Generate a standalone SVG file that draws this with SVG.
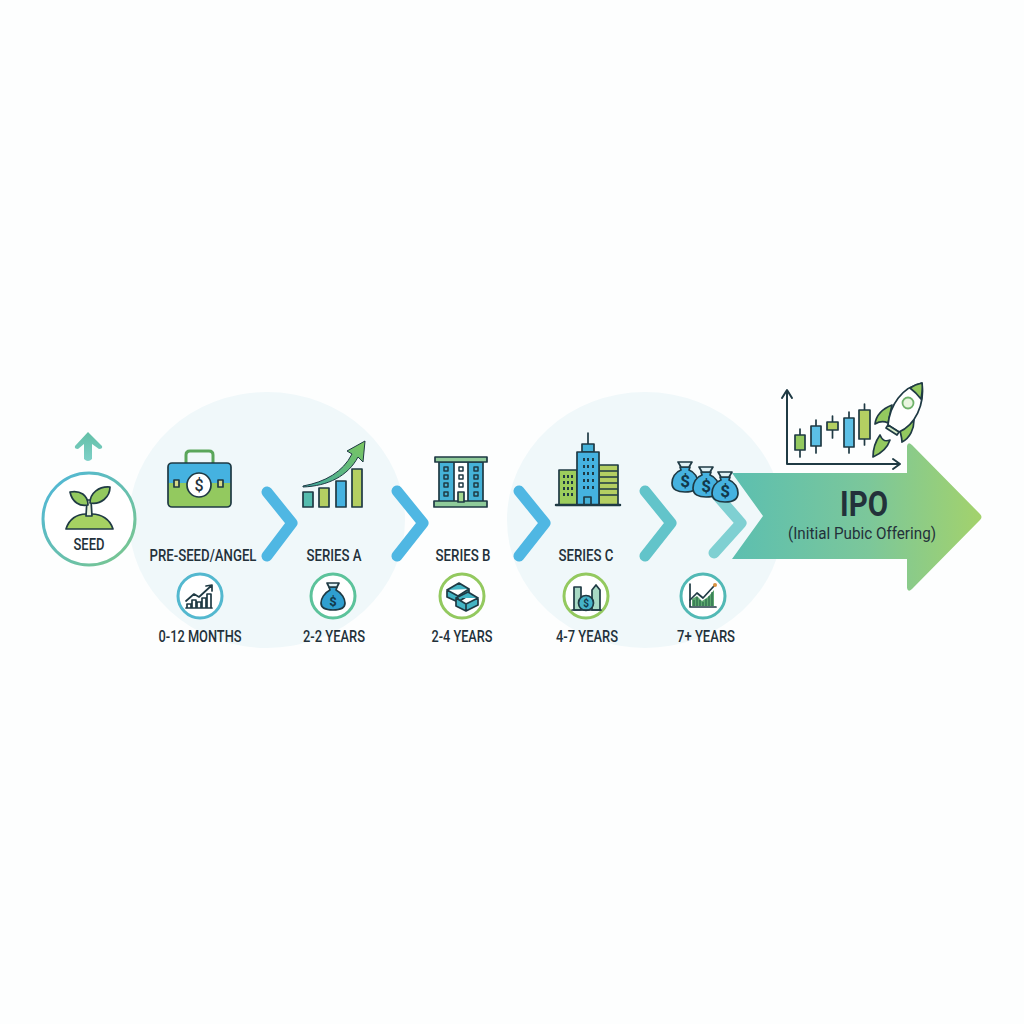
<svg xmlns="http://www.w3.org/2000/svg" xmlns:xlink="http://www.w3.org/1999/xlink" width="1024" height="1024" viewBox="0 0 1024 1024">
<style>
text{font-family:Roboto,"Liberation Sans",sans-serif;fill:#23313a;text-anchor:middle;font-size:17px;font-weight:500}
.o{stroke:#1f3a44;stroke-width:1.7;stroke-linejoin:round;stroke-linecap:round}
.l{fill:none;stroke:#1f3a44;stroke-width:1.7;stroke-linejoin:round;stroke-linecap:round}
.chev{fill:none;stroke-width:11;stroke-linecap:round;stroke-linejoin:round}
.ring{fill:#fff;stroke-width:3}
.bl{fill:#45b2e0}.gr{fill:#93c95f}.te{fill:#55bcae}.ol{fill:#b4cf62}
.win{fill:#1f3a44}
</style>
<defs>
<linearGradient id="ipo" x1="0" x2="1" y1="0" y2="0"><stop offset="0" stop-color="#5cbfb0"/><stop offset="0.55" stop-color="#7cc79a"/><stop offset="1" stop-color="#a3d26c"/></linearGradient>
<linearGradient id="seedRing" x1="0" x2="1" y1="0" y2="1"><stop offset="0" stop-color="#4db6dc"/><stop offset="1" stop-color="#7cc78a"/></linearGradient>
<linearGradient id="up" x1="0" x2="0" y1="0" y2="1"><stop offset="0" stop-color="#62bfa6"/><stop offset="1" stop-color="#7fd0c8"/></linearGradient>
<linearGradient id="trend" x1="0" x2="1" y1="1" y2="0"><stop offset="0" stop-color="#3fa9a0"/><stop offset="1" stop-color="#7cc75f"/></linearGradient>
<g id="bag">
<path class="o" d="M-5,-12 L5,-12 L4,-9 C10,-7 13,-1 13,4 C13,11 7,13 0,13 C-7,13 -13,11 -13,4 C-13,-1 -10,-7 -4,-9 Z" fill="#45b2e0"/>
<path class="o" d="M-7,-17 L7,-17 L4,-12 L-4,-12 Z" fill="#dff1f5"/>
<text y="8" style="font-size:17px;font-weight:700;fill:#12384a">$</text>
</g>
</defs>
<rect width="1024" height="1024" fill="#fdfefe"/>
<g id="backdrops">
<ellipse cx="267" cy="520" rx="138" ry="128" fill="#f0f8fa"/>
<ellipse cx="645" cy="520" rx="138" ry="128" fill="#f0f8fa"/>
</g>
<g id="ipo-node">
<path d="M732,473 L907,473 L907,446 Q908,441 912,445 L980,514 Q983,517 980,520 L912,589 Q908,593 907,588 L907,559 L732,559 L763,516 Z" fill="url(#ipo)"/>
<text x="864" y="516" style="font-size:35px;font-weight:700" textLength="48" lengthAdjust="spacingAndGlyphs">IPO</text>
<text x="862" y="539" style="font-size:17px;font-weight:400" textLength="148" lengthAdjust="spacingAndGlyphs">(Initial Pubic Offering)</text>
<path class="l" d="M787,464 L787,391 M782,398 L787,390 L792,398 M787,464 L900,464 M893,459 L900,464 L893,469" style="stroke-width:2"/>
<path class="l" d="M800,429V457M816,420V453M832.500,416V438M849,412V453M864.500,404V445"/>
<rect class="o gr" x="795" y="435" width="10" height="15"/>
<rect class="o bl" x="811" y="426" width="10" height="20" style="fill:#5cc0e6"/>
<rect class="o ol" x="827" y="422" width="11" height="8"/>
<rect class="o bl" x="844" y="418" width="10" height="29" style="fill:#5cc0e6"/>
<rect class="o ol" x="859" y="410" width="11" height="29"/>
<path class="o gr" d="M892,405 C882,409 876,416 875,424 C880,421 884,421 888,423 Z"/>
<path class="o gr" d="M914,420 C914,429 910,438 902,442 C902,438 901,435 900,431 Z"/>
<path class="o gr" d="M880,435 C875,442 873,450 873,457 C880,454 887,449 890,440 C885,442 882,440 880,435 Z"/>
<path class="o" fill="#fff" d="M922,383 C902,387 890,405 888,425 L899,432 C915,425 925,405 922,383 Z"/>
<path class="o gr" d="M922,383 C917,384 914,385 910,388 C914,391 918,395 921,399 C922,393 923,388 922,383 Z"/>
<path class="o" fill="#d6ebc8" d="M888,425 L899,432 L897,435 L886,428 Z"/>
<circle cx="908" cy="403" r="5.500" fill="#e9f5df" stroke="#6fb26a" stroke-width="1.800"/>
</g>
<g id="connectors">
<path class="chev" stroke="#4fb7e3" d="M267,492 L292,523 L267,556"/>
<path class="chev" stroke="#4fb7e3" d="M397,491 L423,523 L397,556"/>
<path class="chev" stroke="#4fb7e3" d="M519,491 L545,523 L519,556"/>
<path class="chev" stroke="#62c4ca" d="M645,491 L671,523 L645,556"/>
<path class="chev" stroke="#7fd0d2" d="M714,492 L741,523 L714,553"/>
<path fill="url(#up)" d="M88,432 L102,446 Q103,449 99,449 L92,444 L92,459 Q88,463 84,459 L84,444 L78,449 Q74,449 75,446 Z"/>
</g>
<g id="seed">
<circle cx="89" cy="519" r="46" fill="#fff" stroke="url(#seedRing)" stroke-width="3"/>
<path class="o" fill="#a5d162" d="M66,529 C69,519 77,514 86,514 L92,514 C101,514 110,519 113,529 Z"/>
<path class="o" fill="#e8f3d8" d="M86,516 L87,500 L91,500 L92,516 Z"/>
<path class="o gr" d="M88,505 C80,507 72,502 70,492 C80,490 88,495 88,505 Z"/>
<path class="o gr" d="M90,503 C90,493 99,486 110,487 C110,497 101,505 90,503 Z"/>
<text x="89" y="550" textLength="31" lengthAdjust="spacingAndGlyphs">SEED</text>
</g>
<g id="pre-seed">
<path d="M186,463 L186,455 Q186,451 190,451 L209,451 Q213,451 213,455 L213,463" fill="none" stroke="#5aa65a" stroke-width="3"/>
<path class="gr" d="M168,483 H231 V503 Q231,507 227,507 H172 Q168,507 168,503 Z"/>
<path class="bl" d="M168,483 H231 V467 Q231,463 227,463 H172 Q168,463 168,467 Z"/>
<rect class="l" x="168" y="463" width="63" height="44" rx="4"/>
<rect class="o" x="174" y="480" width="5" height="7" fill="#d7d98a"/>
<rect class="o" x="218" y="480" width="5" height="7" fill="#d7d98a"/>
<circle class="o" cx="199" cy="485" r="12" fill="#fff"/>
<text x="199" y="491" style="font-size:16px;font-weight:500">$</text>
<text x="203" y="561" textLength="107" lengthAdjust="spacingAndGlyphs">PRE-SEED/ANGEL</text>
<circle class="ring" cx="200" cy="596" r="22" stroke="#53b8cf"/>
<path class="l" d="M187,608 V604 H191 V608 M192,608 V600 H196 V608 M197,608 V602 H201 V608 M202,608 V598 H206 V608 M207,608 V594 H211 V608 M186,608 H212"/>
<path class="l" d="M186,601 L194,594 L199,597 L211,586 M206,586 L212,585 L212,591"/>
<text x="200" y="642" textLength="83" lengthAdjust="spacingAndGlyphs">0-12 MONTHS</text>
</g>
<g id="series-a">
<rect class="o te" x="303" y="492" width="10" height="15"/>
<rect class="o ol" x="319" y="488" width="10" height="19"/>
<rect class="o bl" x="336" y="481" width="10" height="26"/>
<rect class="o ol" x="352" y="469" width="10" height="38"/>
<path fill="url(#trend)" stroke="#1f3a44" stroke-width="1" stroke-linejoin="round" d="M303,486 C325,482 343,472 352,454 L347,451 L365,441 L363,462 L358,457 C348,476 328,486 303,487 Z"/>
<text x="334" y="561" textLength="55" lengthAdjust="spacingAndGlyphs">SERIES A</text>
<circle class="ring" cx="333" cy="596" r="22" stroke="#5cc39b"/>
<path class="o" fill="#2f9fd0" d="M329,587 L337,587 L336,590 C342,593 345,599 345,603 C345,608 340,610 333,610 C326,610 321,608 321,603 C321,599 324,593 330,590 Z"/>
<path class="o" fill="#dff1f5" d="M327,583 L339,583 L337,587 L329,587 Z"/>
<text x="333" y="606" style="font-size:13px;font-weight:700;fill:#12384a">$</text>
<text x="334" y="642" textLength="62" lengthAdjust="spacingAndGlyphs">2-2 YEARS</text>
</g>
<g id="series-b">
<rect class="o" x="439" y="462" width="44" height="40" fill="#45b2d8"/>
<rect class="o" x="454" y="462" width="14" height="40" fill="#fff"/>
<rect class="o" x="435" y="457" width="52" height="5" fill="#8fcb9a"/>
<rect class="o" x="434" y="501" width="53" height="6" fill="#8fcb9a"/>
<path class="l" d="M444,467h4v4h-4zM444,475h4v4h-4zM444,483h4v4h-4zM444,492h4v4h-4zM459,467h4v4h-4zM459,475h4v4h-4zM459,483h4v4h-4zM474,467h4v4h-4zM474,475h4v4h-4zM474,483h4v4h-4zM474,492h4v4h-4z" style="stroke-width:1.500"/>
<rect class="o" x="458" y="492" width="6" height="10" fill="#a5d98f"/>
<text x="463" y="561" textLength="55" lengthAdjust="spacingAndGlyphs">SERIES B</text>
<circle class="ring" cx="462" cy="596" r="22" stroke="#93c95f"/>
<path class="o" fill="#43b4c4" d="M447,590 L459,583 L469,589 L469,595 L458,602 L447,597 Z M447,590 L458,596 L469,589 M458,596 V602"/>
<path class="o" fill="#43b4c4" d="M456,598 L468,592 L478,598 L478,605 L466,611 L456,606 Z M456,598 L466,604 L478,598 M466,604 V611"/>
<text x="462" y="642" textLength="61" lengthAdjust="spacingAndGlyphs">2-4 YEARS</text>
</g>
<g id="series-c">
<path class="l" d="M588,433 V444"/>
<rect class="o" x="582" y="444" width="12" height="8" fill="#45b2d8"/>
<rect class="o ol" x="559" y="470" width="18" height="35" style="fill:#9ccd5c"/>
<rect class="o ol" x="599" y="465" width="19" height="40"/>
<rect class="o bl" x="577" y="452" width="22" height="53"/>
<path d="M583,458h2v3h-2zM587,458h2v3h-2zM592,458h2v3h-2zM583,465h2v3h-2zM587,465h2v3h-2zM592,465h2v3h-2zM583,472h2v3h-2zM587,472h2v3h-2zM592,472h2v3h-2zM583,479h2v3h-2zM587,479h2v3h-2zM592,479h2v3h-2zM583,486h2v3h-2zM587,486h2v3h-2zM592,486h2v3h-2z" class="win"/>
<path d="M563,475h2v3h-2zM567,475h2v3h-2zM571,475h2v3h-2zM563,481h2v3h-2zM567,481h2v3h-2zM571,481h2v3h-2zM563,487h2v3h-2zM567,487h2v3h-2zM571,487h2v3h-2zM563,493h2v3h-2zM567,493h2v3h-2zM571,493h2v3h-2z" class="win"/>
<path class="l" d="M600,471 H617 M600,477 H617 M600,483 H617 M600,489 H617 M600,495 H617"/>
<rect class="o" x="584" y="497" width="7" height="8" fill="#45b2d8"/>
<path class="l" d="M556,505 H620" style="stroke-width:2.500"/>
<text x="586" y="561" textLength="55" lengthAdjust="spacingAndGlyphs">SERIES C</text>
<circle class="ring" cx="586" cy="596" r="22" stroke="#93c95f"/>
<path class="o" fill="#a8d9c4" d="M574,610 V587 H581 V610 Z M592,610 V590 L596,585 L600,590 V610 Z"/>
<circle class="o" cx="586" cy="603" r="7.500" fill="#45b2c8"/>
<text x="586" y="607" style="font-size:10px;font-weight:700;fill:#12384a">$</text>
<path class="l" d="M572,610 H601"/>
<text x="587" y="642" textLength="62" lengthAdjust="spacingAndGlyphs">4-7 YEARS</text>
</g>
<g id="late-stage">
<use xlink:href="#bag" href="#bag" x="685" y="479"/>
<use xlink:href="#bag" href="#bag" x="706" y="484"/>
<use xlink:href="#bag" href="#bag" x="725" y="489"/>
<circle class="ring" cx="703" cy="596" r="22" stroke="#52b9b5"/>
<path fill="#5da96f" d="M692,606 L692,599 L697,596 L702,601 L708,597 L714,590 L714,606 Z"/>
<path d="M694,600V606M697,597V606M700,600V606M703,602V606M706,599V606M709,596V606M712,592V606" stroke="#1f5a44" stroke-width="1" fill="none"/>
<path class="l" d="M690,584 V607 H716"/>
<path class="l" d="M690,600 L697,593 L703,598 L714,586"/>
<circle cx="715" cy="585" r="2" fill="#d9913f"/>
<text x="706" y="642" textLength="58" lengthAdjust="spacingAndGlyphs">7+ YEARS</text>
</g>
</svg>
